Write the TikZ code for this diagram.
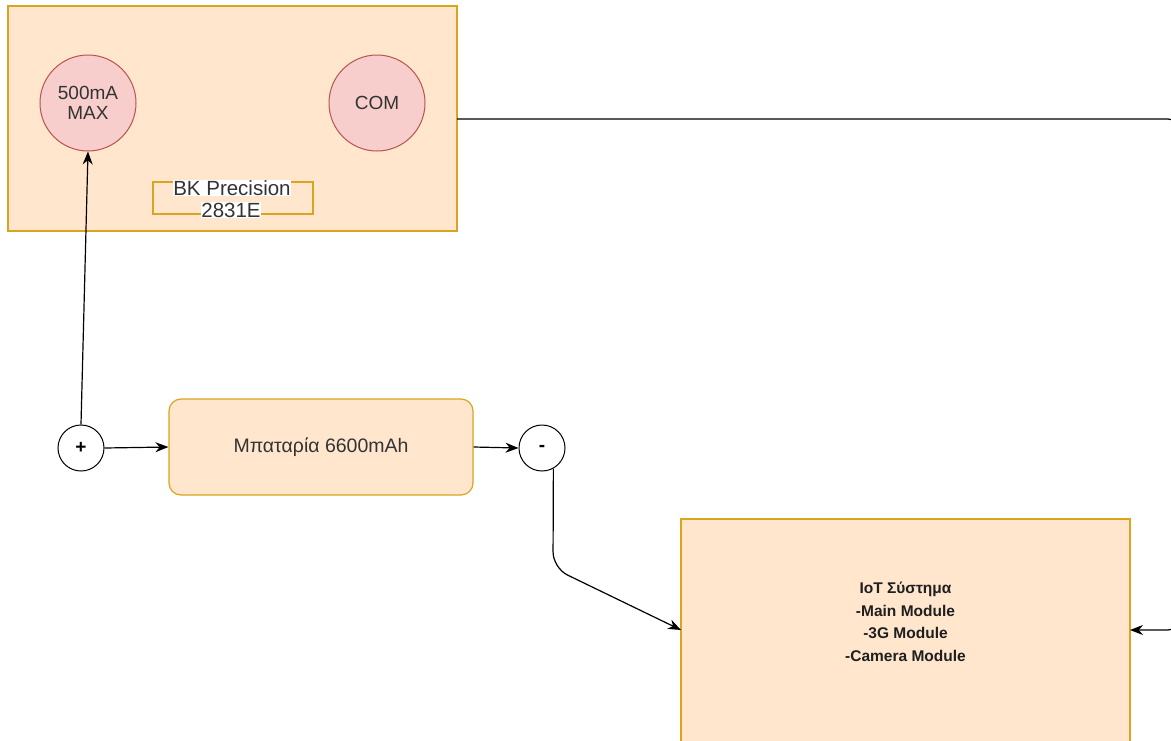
\documentclass[tikz,border=0pt]{standalone}
\usepackage{fontspec}
\setmainfont{Liberation Sans}
\usetikzlibrary{arrows.meta}
\definecolor{boxfill}{HTML}{FFE6CC}
\definecolor{boxline}{HTML}{D9A520}
\definecolor{pinfill}{HTML}{F8CECC}
\definecolor{pinline}{HTML}{B85450}
\definecolor{txt}{HTML}{333333}
\tikzset{
  panel/.style={draw=boxline, fill=boxfill, line width=1.2pt, inner sep=0pt},
  pin/.style={circle, draw=pinline, fill=pinfill, line width=1pt, minimum size=96pt, inner sep=0pt, align=center, text=txt, font=\fontsize{19}{22}\selectfont},
  term/.style={circle, draw=black, fill=white, line width=1pt, minimum size=46pt, inner sep=0pt, font=\fontsize{19}{22}\selectfont\bfseries},
  wire/.style={draw=black, line width=1.2pt},
  arr/.style={wire, -{Stealth[length=13pt,width=10pt]}},
  whitelab/.style={fill=white, inner sep=0.5pt, text=txt, font=\fontsize{20.5}{23}\selectfont}
}
\begin{document}
\begin{tikzpicture}[x=1pt,y=-1pt]
\useasboundingbox (0,0) rectangle (1171,740);
% BK Precision box
\node[panel, minimum width=449pt, minimum height=225pt] (bk) at (232.5,118.5) {};
\node[pin] (max) at (88,103) {500mA\\[-2pt]MAX};
\node[pin] (com) at (377,103) {COM};
\node[draw=boxline, line width=1.2pt, minimum width=160pt, minimum height=32pt, inner sep=0pt] (lab) at (233,198) {};
\node[whitelab] (lab1) at (232,188) {BK Precision};
\node[whitelab] (lab2) at (231,210) {2831E};
% battery row
\node[term] (plus) at (81,448) {+};
\node[panel, rounded corners=12pt, minimum width=304pt, minimum height=96pt, text=txt, font=\fontsize{19.5}{22}\selectfont] (bat) at (321,447) {Μπαταρία 6600mAh};
\node[term] (minus) at (542,448) {-};
% IoT box
\node[panel, minimum width=449pt, minimum height=300pt] (iot) at (905.5,669) {};
\node[align=center, text=black!88, font=\fontsize{15.5}{22.5}\selectfont\bfseries] (iottxt) at (905.5,622) {IoT Σύστημα\\-Main Module\\-3G Module\\-Camera Module};
\coordinate (iotin) at (681,630);
\coordinate (iotright) at (1130,630);
\coordinate (bkout) at (457,119);
% connectors
\draw[arr] (plus.north) -- (max.south);
\draw[arr] (plus.east) -- (bat.west);
\draw[arr] (bat.east) -- (minus.west);
\draw[arr, rounded corners=16pt] (minus.-61) -- (553,568) -- (iotin);
\draw[arr, rounded corners=10pt] (bkout) -- (1178,119) -- (1178,630) -- (iotright);
\end{tikzpicture}
\end{document}
